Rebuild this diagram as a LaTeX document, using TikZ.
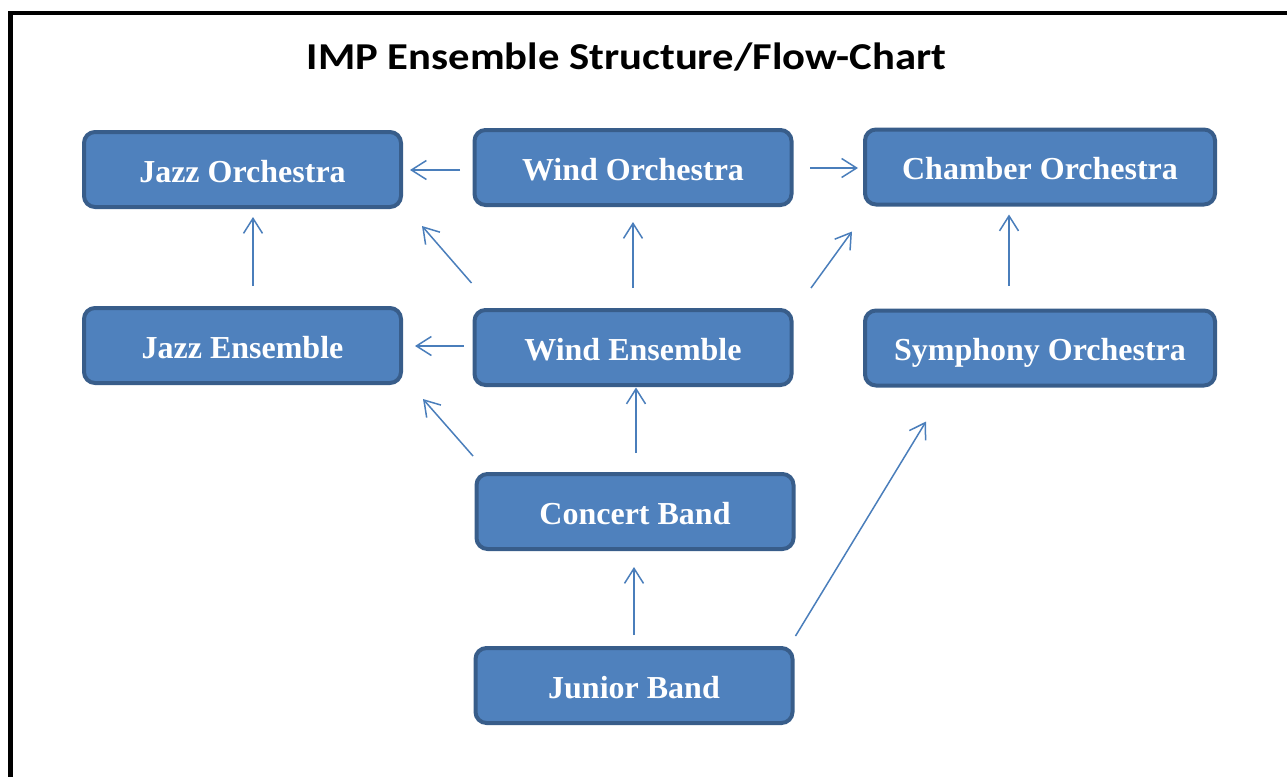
\documentclass[tikz,border=0pt]{standalone}
\usepackage{fontspec}
\setmainfont{Liberation Serif}
\newfontfamily\titlefont{Carlito}
\usetikzlibrary{arrows.meta,calc}
\definecolor{boxfill}{HTML}{4F81BD}
\definecolor{boxline}{HTML}{385D8A}
\definecolor{arrcol}{HTML}{4A7EBB}
\tikzset{
  ens/.style={draw=boxline, fill=boxfill, line width=4pt, rounded corners=11pt,
    minimum width=317pt, minimum height=75pt, inner sep=0pt,
    text=white, font=\fontsize{32}{36}\selectfont\bfseries,
    text height=25pt, text depth=0pt, align=center},
  wide/.style={minimum width=350pt},
  arr/.style={draw=arrcol, line width=1.5pt,
    -{Straight Barb[length=15pt,width=19pt,line width=1.5pt]}},
  frame/.style={draw=black, line width=4.5pt},
}
\begin{document}
\begin{tikzpicture}[x=1pt,y=-1pt]
\useasboundingbox (0,0) rectangle (1287,776);
\begin{scope}
\clip (0,0) rectangle (1287,776);
\draw[frame] (10.3,12.8) rectangle (1310,800);
\end{scope}
\node[anchor=base, inner sep=0pt] (title) at (626.5,70)
  {\resizebox{639pt}{\height}{\titlefont\fontsize{38}{44}\selectfont\bfseries IMP Ensemble Structure/Flow-Chart}};

\node[ens] (jo) at (242.5,169.5) {Jazz Orchestra};
\node[ens] (wo) at (633,167.5) {Wind Orchestra};
\node[ens,wide] (co) at (1040,167) {Chamber Orchestra};
\node[ens] (je) at (242.5,345.5) {Jazz Ensemble};
\node[ens] (we) at (633,347.5) {Wind Ensemble};
\node[ens,wide] (so) at (1040,348) {Symphony Orchestra};
\node[ens] (cb) at (635,511.5) {Concert Band};
\node[ens] (jb) at (634,685.5) {Junior Band};

% connectors
\draw[arr] ($(wo.west)+(-12.5,2.5)$) -- ($(jo.east)+(7,0.5)$);
\draw[arr] ($(wo.east)+(16.5,0.5)$) -- ($(co.west)+(-5,1)$);
\draw[arr] ($(je.north)+(10.5,-20)$) -- ($(jo.south)+(10.5,8)$);
\draw[arr] ($(we.west)+(-1,-64.5)$) -- ($(jo.east)+(19,56.5)$);
\draw[arr] ($(we.north)+(0,-20)$) -- ($(wo.south)+(0,15)$);
\draw[arr] ($(we.east)+(17.5,-59.5)$) -- ($(co.west)+(-11,64.5)$);
\draw[arr] ($(so.north)+(-31,-23)$) -- ($(co.south)+(-31,8)$);
\draw[arr] ($(we.west)+(-9,-1.5)$) -- ($(je.east)+(12,0.5)$);
\draw[arr] ($(cb.west)+(-1.5,-55.5)$) -- ($(je.east)+(20,53.5)$);
\draw[arr] ($(cb.north)+(1,-19)$) -- ($(we.south)+(3,0.5)$);
\draw[arr] ($(jb.north)+(0,-11)$) -- ($(cb.south)+(-1,16)$);
\draw[arr] ($(jb.east)+(1,-49.5)$) -- ($(so.south)+(-114,34)$);
\end{tikzpicture}
\end{document}
